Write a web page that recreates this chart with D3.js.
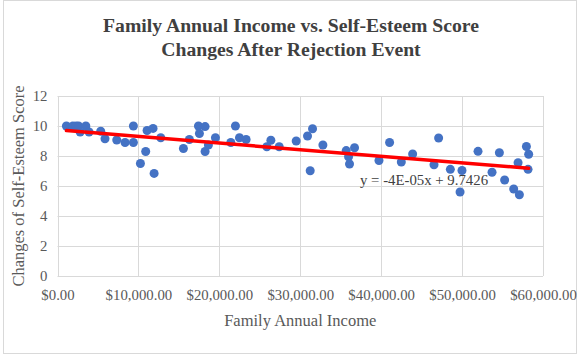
<!DOCTYPE html>
<html>
<head>
<meta charset="utf-8">
<script src="https://cdn.jsdelivr.net/npm/d3@7"></script>
<style>
  html, body { margin: 0; padding: 0; background: #fff; }
  svg { display: block; }
</style>
</head>
<body>
<script>
// ---- Data ----
const income = [1100, 1900, 2300, 2600, 3500, 2800, 3900, 5340, 5870, 7320, 8350, 9380, 9380, 10250, 10900, 11070, 11810, 11940, 12760,
  15560, 16300, 17420, 18240, 17540, 18240, 18650, 19520, 21990, 21420, 22490, 23310, 25870, 26370, 27400, 29500,
  30900, 31520, 31230, 32800, 35680, 35970, 36090, 36710, 39730, 41040, 42490, 43890,
  46530, 47100, 48550, 49990, 49750, 51970, 53700, 54610, 55260, 56380, 56920, 57080, 57950, 58230, 58150];
const score = [10.0, 10.0, 10.0, 10.0, 10.0, 9.6, 9.6, 9.65, 9.15, 9.07, 8.9, 10.0, 8.9, 7.5, 8.3, 9.7, 9.84, 6.84, 9.22,
  8.5, 9.1, 10.0, 9.96, 9.5, 8.3, 8.73, 9.22, 10.0, 8.9, 9.22, 9.1, 8.62, 9.05, 8.62, 9.0,
  9.33, 9.82, 7.02, 8.73, 8.36, 7.95, 7.47, 8.55, 7.7, 8.9, 7.6, 8.13,
  7.42, 9.2, 7.11, 7.03, 5.6, 8.31, 6.92, 8.22, 6.4, 5.8, 7.55, 5.42, 8.63, 8.12, 7.11];
const xTicks = [0, 10000, 20000, 30000, 40000, 50000, 60000];
const yTicks = [0, 2, 4, 6, 8, 10, 12];
const titleLines = ["Family Annual Income vs. Self-Esteem Score", "Changes After Rejection Event"];
const xTitle = "Family Annual Income";
const yTitle = "Changes of Self-Esteem Score";
const trendLabel = "y = -4E-05x + 9.7426";
// trendline coefficients (intercept as labelled, slope)
const trendIntercept = 9.7426;
const trendSlope = -0.000044;

const W = 583, H = 359;
const svg = d3.select("body").append("svg").attr("width", W).attr("height", H);

// outer chart border
svg.append("rect").attr("x", 3.5).attr("y", 0.5).attr("width", 573).attr("height", 353)
  .attr("fill", "#fff").attr("stroke", "#d9d9d9").attr("stroke-width", 1);

const plot = { left: 57.5, right: 543, top: 96, bottom: 276 };
const x = d3.scaleLinear().domain([0, 60000]).range([plot.left, plot.right]);
const y = d3.scaleLinear().domain([0, 12]).range([plot.bottom, plot.top]);

const serif = "'Liberation Serif', 'Times New Roman', serif";

// gridlines
svg.append("g").selectAll("line.h").data(yTicks).join("line")
  .attr("x1", plot.left).attr("x2", plot.right)
  .attr("y1", d => Math.round(y(d)) + 0.5).attr("y2", d => Math.round(y(d)) + 0.5)
  .attr("stroke", "#d9d9d9").attr("stroke-width", 1);
svg.append("g").selectAll("line.v").data(xTicks).join("line")
  .attr("y1", plot.top).attr("y2", plot.bottom)
  .attr("x1", d => Math.round(x(d)) + 0.5).attr("x2", d => Math.round(x(d)) + 0.5)
  .attr("stroke", "#d9d9d9").attr("stroke-width", 1);

// axes (labels only)
const fmt = d => "$" + d3.format(",.2f")(d);
const xAxis = svg.append("g").attr("transform", `translate(0,${plot.bottom})`)
  .call(d3.axisBottom(x).tickValues(xTicks).tickFormat(fmt).tickSize(0).tickPadding(13));
const yAxis = svg.append("g").attr("transform", `translate(${plot.left},0)`)
  .call(d3.axisLeft(y).tickValues(yTicks).tickSize(0).tickPadding(10));
[xAxis, yAxis].forEach(a => {
  a.select(".domain").remove();
  a.selectAll("text").attr("font-family", serif).attr("font-size", 14.8).attr("fill", "#595959");
});

// points
svg.append("g").selectAll("circle").data(income.map((v, i) => [v, score[i]])).join("circle")
  .attr("cx", d => x(d[0])).attr("cy", d => y(d[1])).attr("r", 4.5)
  .attr("fill", "#4472C4");

// linear trendline across the data's income range
const x0 = d3.min(income), x1 = d3.max(income);
svg.append("line")
  .attr("x1", x(x0)).attr("y1", y(trendIntercept + trendSlope * x0))
  .attr("x2", x(x1)).attr("y2", y(trendIntercept + trendSlope * x1))
  .attr("stroke", "#FF0000").attr("stroke-width", 3.5).attr("stroke-linecap", "round");

svg.append("text").attr("x", 360).attr("y", 185)
  .attr("font-family", serif).attr("font-size", 14.8).attr("fill", "#404040")
  .text(trendLabel);

// titles
svg.append("g").selectAll("text").data(titleLines).join("text")
  .attr("x", 291).attr("y", (d, i) => 32 + i * 23.5)
  .attr("text-anchor", "middle").attr("font-family", serif).attr("font-weight", "bold")
  .attr("font-size", 19.7).attr("fill", "#404040").text(d => d);

svg.append("text").attr("x", (plot.left + plot.right) / 2).attr("y", 326)
  .attr("text-anchor", "middle").attr("font-family", serif).attr("font-size", 16.5)
  .attr("fill", "#595959").text(xTitle);

svg.append("text").attr("transform", `translate(23.5,${(plot.top + plot.bottom) / 2}) rotate(-90)`)
  .attr("text-anchor", "middle").attr("font-family", serif).attr("font-size", 16.5)
  .attr("fill", "#595959").text(yTitle);
</script>
</body>
</html>
